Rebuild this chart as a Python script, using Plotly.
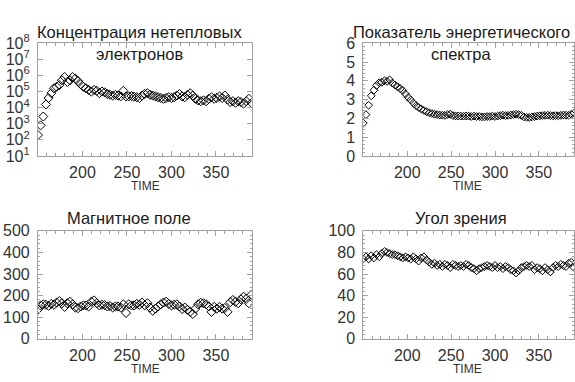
import plotly.graph_objects as go

# ---------------- data ----------------
time = [150 + 3 * k for k in range(81)]

# log10 of non-thermal electron concentration
conc_log = [2.3, 2.9, 3.45, 4.2, 4.6, 4.9, 5.2, 5.3, 5.4, 5.7, 5.9, 5.6, 5.7, 5.9, 5.8, 5.65,
            5.45, 5.3, 5.2, 5.1, 5.0, 5.1, 5.05, 4.9, 5.0, 4.95, 4.85, 4.8, 4.75, 4.8, 4.75,
            4.7, 5.05, 4.7, 4.7, 4.72, 4.68, 4.65, 4.6, 4.75, 4.85, 4.9, 4.8, 4.75, 4.7, 4.65,
            4.6, 4.55, 4.6, 4.65, 4.6, 4.65, 4.75, 4.85, 4.7, 4.65, 4.8, 4.9, 4.75, 4.55, 4.45,
            4.4, 4.45, 4.4, 4.55, 4.65, 4.55, 4.6, 4.7, 4.6, 4.75, 4.5, 4.35, 4.4, 4.3, 4.4,
            4.35, 4.25, 4.4, 4.55, 4.3]
conc = [10 ** v for v in conc_log]

spectral_index = [1.75, 2.2, 2.7, 3.2, 3.5, 3.75, 3.9, 3.92, 4.0, 3.97, 4.05, 3.88, 3.78, 3.68,
                  3.58, 3.48, 3.3, 3.12, 2.98, 2.82, 2.68, 2.58, 2.5, 2.42, 2.36, 2.3, 2.26, 2.22,
                  2.2, 2.18, 2.17, 2.16, 2.2, 2.22, 2.15, 2.13, 2.13, 2.12, 2.12, 2.13, 2.12, 2.1,
                  2.12, 2.1, 2.1, 2.08, 2.08, 2.1, 2.1, 2.12, 2.1, 2.12, 2.15, 2.17, 2.15, 2.16,
                  2.18, 2.2, 2.22, 2.2, 2.16, 2.08, 2.06, 2.05, 2.08, 2.1, 2.12, 2.14, 2.15, 2.16,
                  2.17, 2.15, 2.14, 2.15, 2.14, 2.16, 2.18, 2.17, 2.16, 2.22, 2.28]

magnetic_field = [136, 155, 160, 158, 153, 162, 158, 168, 175, 165, 148, 165, 172, 160, 145, 142,
                  150, 155, 155, 150, 172, 178, 165, 155, 158, 157, 150, 152, 145, 150, 150, 145,
                  160, 120, 160, 155, 155, 162, 158, 168, 155, 165, 145, 130, 140, 150, 160, 168,
                  172, 162, 155, 158, 160, 150, 138, 145, 135, 125, 115, 140, 160, 167, 165, 160,
                  150, 125, 148, 140, 148, 140, 143, 125, 170, 180, 172, 165, 183, 195, 185, 165,
                  205]

view_angle = [74, 76, 74, 77, 75, 78, 76, 79, 81, 80, 79, 78, 78, 77, 76, 75, 76, 75, 74, 76,
              74, 72, 75, 76, 73, 71, 69, 70, 68, 69, 67, 69, 68, 66, 69, 68, 67, 68, 67, 69,
              68, 66, 65, 63, 65, 66, 67, 68, 67, 66, 68, 66, 67, 65, 67, 66, 64, 63, 61, 63,
              66, 67, 68, 67, 68, 64, 66, 65, 63, 66, 64, 62, 66, 68, 67, 69, 68, 67, 70, 71, 66]

x_ticks = [200, 250, 300, 350]
log_tickvals = [10 ** e for e in range(1, 9)]
log_ticktext = ["10<sup>%d</sup>" % e for e in range(1, 9)]

titles = [["Концентрация нетепловых", "электронов"],
          ["Показатель энергетического", "спектра"],
          ["Магнитное поле"],
          ["Угол зрения"]]
xlabel = "TIME"

# ---------------- layout helpers ----------------
W, H = 575, 382
TICKFONT = dict(family="Liberation Sans", size=16, color="#333333")
TITLEFONT = dict(family="Liberation Sans", size=16.5, color="#1a1a1a")
AXCOL = "#a0a0a0"

fig = go.Figure()

series = [conc, spectral_index, magnetic_field, view_angle]
msizes = [7, 6, 7, 6]
for i, ys in enumerate(series):
    sfx = "" if i == 0 else str(i + 1)
    fig.add_trace(go.Scatter(
        x=time, y=ys, mode="markers",
        marker=dict(symbol="diamond-open", size=msizes[i], color="black",
                    line=dict(width=1, color="black")),
        xaxis="x" + sfx, yaxis="y" + sfx, showlegend=False, cliponaxis=True))

# plot boxes in pixels: (left, right, top, bottom)
boxes = [(38, 252, 34, 153), (364, 575, 34, 153), (38, 252, 232, 346), (364, 575, 232, 346)]


def xax(box, anchor):
    l, r, t, b = box
    return dict(domain=[l / W, r / W], range=[150, 390], anchor=anchor,
                tickvals=x_ticks, ticks="inside", ticklen=5, tickcolor=AXCOL,
                showline=True, linecolor=AXCOL, linewidth=1, mirror="ticks",
                showgrid=False, zeroline=False, tickfont=TICKFONT,
                minor=dict(dtick=10, ticks="inside", ticklen=3, tickcolor=AXCOL),
                ticklabelstandoff=2)


def yax(box, anchor, **kw):
    l, r, t, b = box
    d = dict(domain=[1 - b / H, 1 - t / H], anchor=anchor,
             ticks="inside", ticklen=5, tickcolor=AXCOL,
             showline=True, linecolor=AXCOL, linewidth=1, mirror="ticks",
             showgrid=False, zeroline=False, tickfont=TICKFONT,
             ticklabelstandoff=4)
    d.update(kw)
    return d


layout = dict(
    width=W, height=H, margin=dict(l=0, r=0, t=0, b=0),
    paper_bgcolor="white", plot_bgcolor="white",
    xaxis=xax(boxes[0], "y"),
    yaxis=yax(boxes[0], "x", type="log", range=[1, 8], tickvals=log_tickvals,
              ticktext=log_ticktext),
    xaxis2=xax(boxes[1], "y2"),
    yaxis2=yax(boxes[1], "x2", range=[0, 6], dtick=1,
               minor=dict(dtick=0.2, ticks="inside", ticklen=2, tickcolor=AXCOL)),
    xaxis3=xax(boxes[2], "y3"),
    yaxis3=yax(boxes[2], "x3", range=[0, 500], dtick=100,
               minor=dict(dtick=20, ticks="inside", ticklen=2, tickcolor=AXCOL)),
    xaxis4=xax(boxes[3], "y4"),
    yaxis4=yax(boxes[3], "x4", range=[0, 100], dtick=20,
               minor=dict(dtick=4, ticks="inside", ticklen=2, tickcolor=AXCOL)),
)
fig.update_layout(**layout)

# titles (pixel positions of line centres)
title_pos = [[(140, 22), (140, 45)], [(462, 22), (462, 45)], [(129, 218)], [(462, 218)]]
for lines, poss in zip(titles, title_pos):
    for txt, (px, py) in zip(lines, poss):
        fig.add_annotation(text=txt, x=px / W, y=1 - py / H, xref="paper", yref="paper",
                           xanchor="center", yanchor="middle", showarrow=False,
                           font=TITLEFONT)

time_pos = [(146, 185), (468, 185), (146, 378), (468, 378)]
for px, py in time_pos:
    fig.add_annotation(text=xlabel, x=px / W, y=1 - py / H, xref="paper", yref="paper",
                       xanchor="center", yanchor="middle", showarrow=False,
                       font=dict(family="Liberation Sans", size=12, color="#333333"))

fig.write_html("out.html")
